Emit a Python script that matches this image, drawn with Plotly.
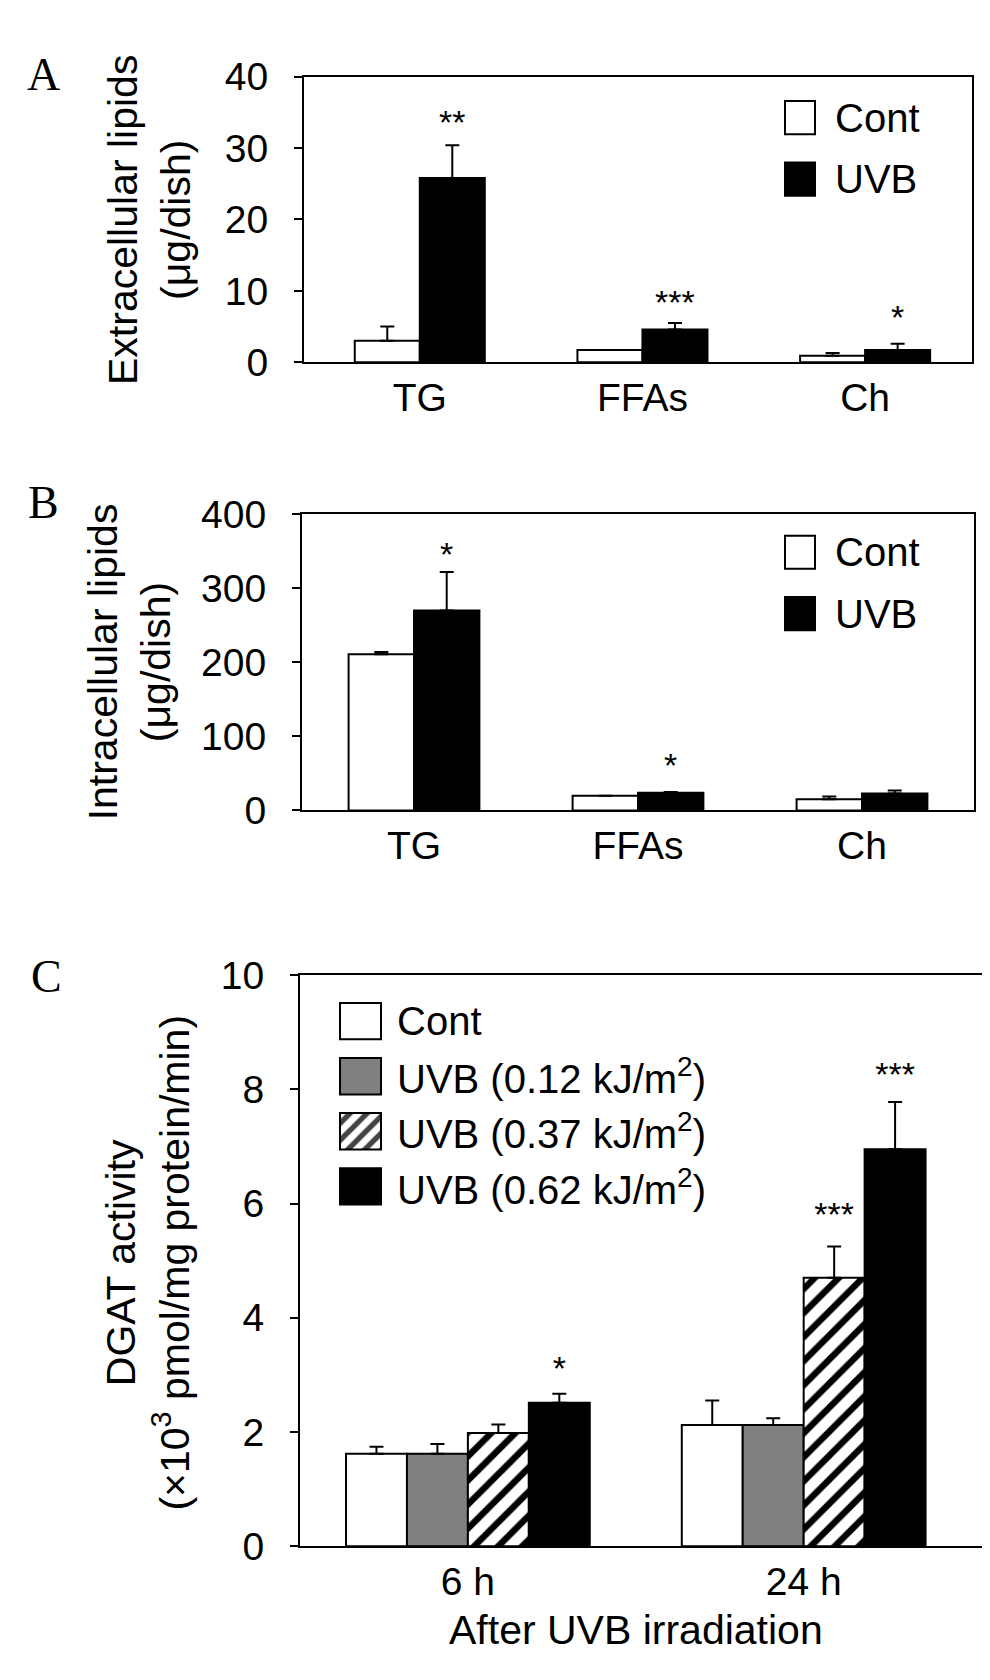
import plotly.graph_objects as go

W, H = 990, 1680
FONT = "Liberation Sans, Arial, sans-serif"

# ---- data ----
lipids = ["TG", "FFAs", "Ch"]

# A: extracellular lipids (ug/dish)
a_cont = [3.0, 1.7, 0.9]
a_cont_err = [2.0, 0.0, 0.4]
a_uvb = [25.8, 4.6, 1.7]
a_uvb_err = [4.6, 0.9, 0.9]
a_stars = ["**", "***", "*"]
a_star_y = [33.2, 7.9, 5.8]

# B: intracellular lipids (ug/dish)
b_cont = [211, 20, 15]
b_cont_err = [3, 0, 4]
b_uvb = [270, 24, 23]
b_uvb_err = [52, 1, 4]
b_stars = ["*", "*", ""]
b_star_y = [342, 57, None]

# C: DGAT activity (x10^3 pmol/mg protein/min)
times = ["6 h", "24 h"]
c_cont = [1.62, 2.12]
c_cont_err = [0.12, 0.43]
c_low = [1.62, 2.12]
c_low_err = [0.17, 0.12]
c_mid = [1.98, 4.70]
c_mid_err = [0.15, 0.55]
c_high = [2.51, 6.95]
c_high_err = [0.16, 0.83]
c_mid_stars = ["", "***"]
c_mid_star_y = [None, 5.75]
c_high_stars = ["*", "***"]
c_high_star_y = [3.05, 8.2]

ab_labels = ["Cont", "UVB"]
c_labels = ["Cont", "UVB (0.12 kJ/m<sup>2</sup>)", "UVB (0.37 kJ/m<sup>2</sup>)",
            "UVB (0.62 kJ/m<sup>2</sup>)"]

# fill styles: (colour, pattern)
WHITE = ("white", "")
GREY = ("#808080", "")
HATCH = ("white", "/")
BLACK = ("black", "")


def px_x(p):
    return p / W


def px_y(p):
    return 1 - p / H


fig = go.Figure()


def add_bars(ax, vals, errs, k, n, gap, style, stars=None, star_y=None):
    w = (1 - gap) / n
    off = -n * w / 2 + k * w
    xs = list(range(len(vals)))
    fig.add_trace(go.Bar(
        x=xs, y=vals, width=w, offset=off,
        marker=dict(color=style[0], line=dict(color="black", width=2),
                    pattern=dict(shape=style[1], fgcolor="black", bgcolor="white",
                                 fgopacity=1, size=17, solidity=0.38)),
        error_y=dict(type="data", array=errs, arrayminus=[0] * len(errs),
                     symmetric=False, color="black", thickness=2, width=7),
        xaxis="x" + ax, yaxis="y" + ax, showlegend=False))
    if stars:
        keep = [i for i in xs if stars[i]]
        fig.add_trace(go.Scatter(
            x=[i + off + w / 2 for i in keep], y=[star_y[i] for i in keep],
            text=[stars[i] for i in keep], mode="text",
            textposition="middle center", cliponaxis=False,
            textfont=dict(size=34, color="black", family=FONT),
            xaxis="x" + ax, yaxis="y" + ax, showlegend=False))


add_bars("", a_cont, a_cont_err, 0, 2, 0.416, WHITE)
add_bars("", a_uvb, a_uvb_err, 1, 2, 0.416, BLACK, a_stars, a_star_y)
add_bars("2", b_cont, b_cont_err, 0, 2, 0.416, WHITE)
add_bars("2", b_uvb, b_uvb_err, 1, 2, 0.416, BLACK, b_stars, b_star_y)
add_bars("3", c_cont, c_cont_err, 0, 4, 0.274, WHITE)
add_bars("3", c_low, c_low_err, 1, 4, 0.274, GREY)
add_bars("3", c_mid, c_mid_err, 2, 4, 0.274, HATCH, c_mid_stars, c_mid_star_y)
add_bars("3", c_high, c_high_err, 3, 4, 0.274, BLACK, c_high_stars, c_high_star_y)


def xax(l, r, rng, ticks, anchor):
    return dict(domain=[px_x(l), px_x(r)], range=rng, tickvals=list(range(len(ticks))),
                ticktext=ticks, ticks="", showline=True, linecolor="black", linewidth=2,
                mirror=True, showgrid=False, zeroline=False, anchor=anchor,
                tickfont=dict(size=39, family=FONT, color="black"))


def yax(t, b, rng, dtick, anchor):
    return dict(domain=[px_y(b), px_y(t)], range=rng, dtick=dtick, tick0=0,
                ticks="outside", ticklen=8, tickwidth=2, tickcolor="black",
                showline=True, linecolor="black", linewidth=2, mirror=True,
                showgrid=False, zeroline=False, anchor=anchor, ticklabelstandoff=18,
                tickfont=dict(size=39, family=FONT, color="black"))


layout = dict(
    width=W, height=H, margin=dict(l=0, r=0, t=0, b=0),
    paper_bgcolor="white", plot_bgcolor="white", showlegend=False,
    font=dict(family=FONT, color="black"),
    xaxis=xax(296, 964, [-0.52, 2.48], lipids, "y"),
    yaxis=yax(49, 342, [0, 40], 10, "x"),
    xaxis2=xax(294, 966, [-0.5, 2.5], lipids, "y2"),
    yaxis2=yax(498, 802, [0, 400], 100, "x2"),
    xaxis3=xax(292, 977, [-0.5, 1.54], times, "y3"),
    yaxis3=yax(971, 1557, [0, 10], 2, "x3"),
)

# legend keys drawn as bars on small hidden axes
legend_specs = [
    ("4", 777, 807, [91, 154], 34, [WHITE, BLACK], ab_labels, 825),
    ("5", 777, 807, [537, 600], 34, [WHITE, BLACK], ab_labels, 825),
    ("6", 332, 373, [1018, 1074, 1131, 1188], 37, [WHITE, GREY, HATCH, BLACK], c_labels, 387),
]
annotations = []
for ax, l, r, rows, bh, styles, labels, tx in legend_specs:
    pad = 6
    unit = r - l
    step = rows[1] - rows[0]
    n = len(rows)
    fig.add_trace(go.Bar(
        x=[1] * n, y=list(range(n)), base=0, orientation="h", width=bh / step,
        marker=dict(color=[s[0] for s in styles], line=dict(color="black", width=2),
                    pattern=dict(shape=[s[1] for s in styles], fgcolor="black",
                                 bgcolor="white", fgopacity=1, size=12, solidity=0.45)),
        xaxis="x" + ax, yaxis="y" + ax, showlegend=False, hoverinfo="skip"))
    layout["xaxis" + ax] = dict(domain=[px_x(l - pad), px_x(r + pad)],
                                range=[-pad / unit, 1 + pad / unit], visible=False,
                                anchor="y" + ax)
    layout["yaxis" + ax] = dict(domain=[px_y(rows[-1] + step / 2), px_y(rows[0] - step / 2)],
                                range=[n - 0.5, -0.5], visible=False, anchor="x" + ax)
    for row, lab in zip(rows, labels):
        annotations.append(dict(x=px_x(tx), y=px_y(row), xref="paper", yref="paper",
                                text=lab, showarrow=False, xanchor="left", yanchor="middle",
                                font=dict(size=40, family=FONT, color="black")))

# axis titles and panel letters
ytitles = [
    ("Extracellular lipids<br>(μg/dish)", 142, 196),
    ("Intracellular lipids<br>(μg/dish)", 121, 650),
    ("DGAT activity<br>(×10<sup>3</sup> pmol/mg protein/min)", 140, 1266),
]
for txt, x, y in ytitles:
    annotations.append(dict(x=px_x(x), y=px_y(y), xref="paper", yref="paper", text=txt,
                            textangle=-90, showarrow=False, xanchor="center",
                            yanchor="middle", font=dict(size=41, family=FONT, color="black")))
annotations.append(dict(x=px_x(628), y=px_y(1643), xref="paper", yref="paper",
                        text="After UVB irradiation", showarrow=False, xanchor="center",
                        yanchor="middle", font=dict(size=41, family=FONT, color="black")))
for letter, x, y in [("A", 35, 47), ("B", 35, 486), ("C", 38, 972)]:
    annotations.append(dict(x=px_x(x), y=px_y(y), xref="paper", yref="paper", text=letter,
                            showarrow=False, xanchor="center", yanchor="middle",
                            font=dict(size=46, family="Liberation Serif, Times New Roman, serif",
                                      color="black")))

layout["annotations"] = annotations
fig.update_layout(**layout)
fig.write_html("out.html")
